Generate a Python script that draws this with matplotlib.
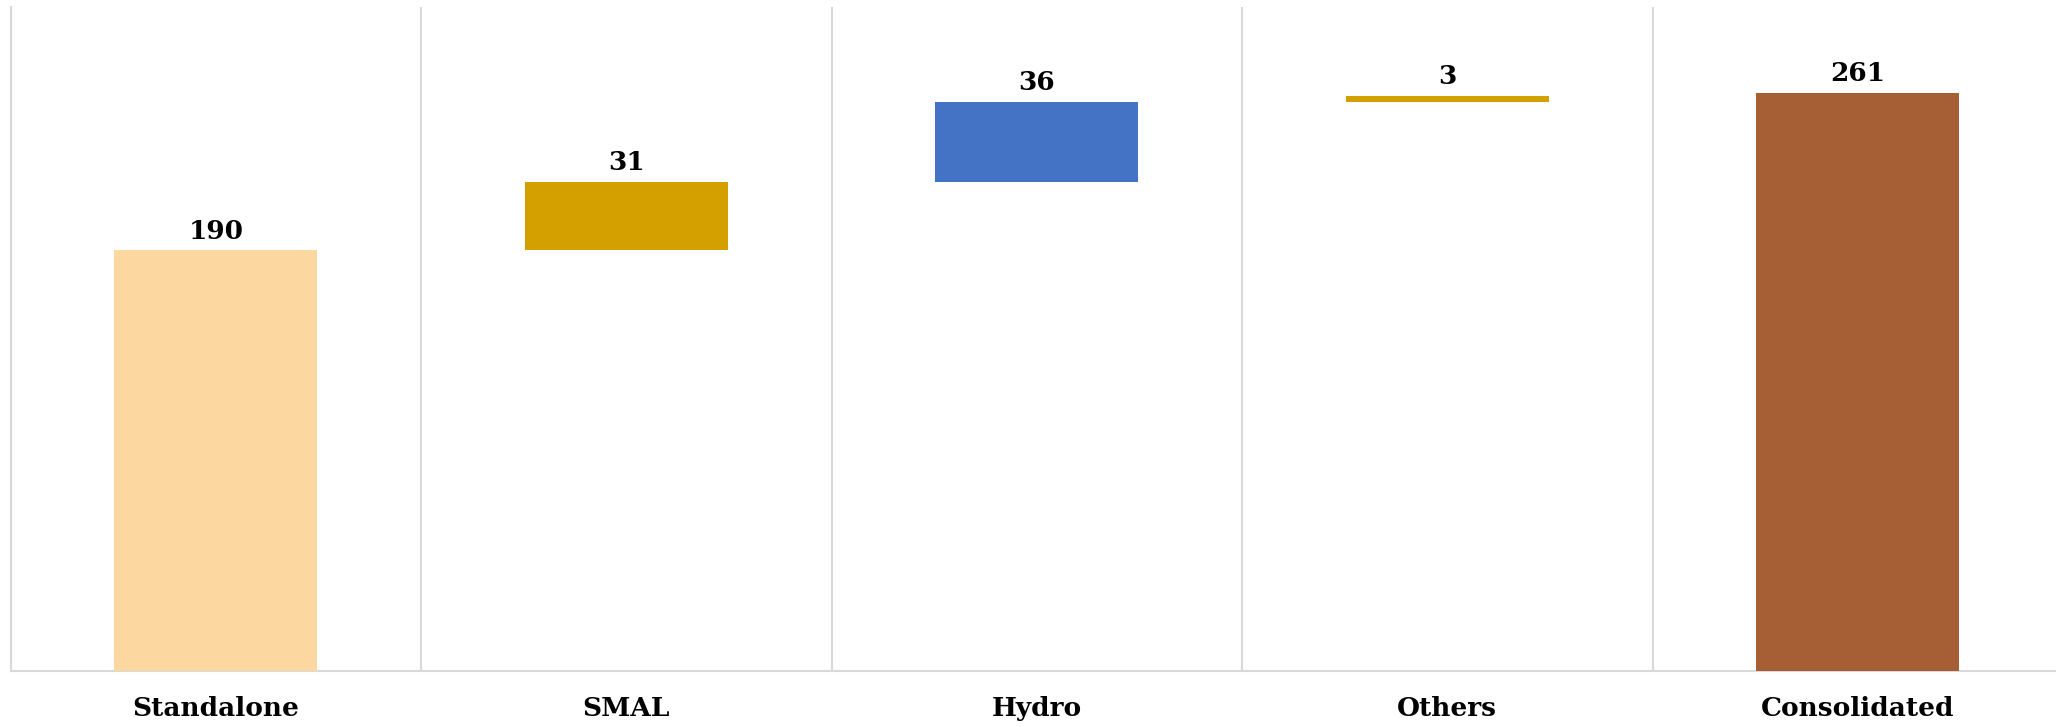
import matplotlib
matplotlib.use("Agg")
import matplotlib.pyplot as plt
import numpy as np

categories = ["Standalone", "SMAL", "Hydro", "Others", "Consolidated"]
values = [190, 31, 36, 3, 261]
bases = [0, 190, 221, 257, 0]
colors = ["#FDD7A0", "#D4A000", "#4472C4", "#D4A000", "#A65E34"]

plt.rcParams['font.family'] = ['DejaVu Serif']

fig = plt.figure(figsize=(20.56, 7.27), dpi=100)
ax = fig.add_axes([10.5 / 2056, 56 / 727, 2052.5 / 2056, 664 / 727])

x = np.arange(len(categories))
bars = ax.bar(x, values, bottom=bases, width=0.495, color=colors, zorder=3)

for xi, v, b in zip(x, values, bases):
    ax.annotate(str(v), (xi, b + v), xytext=(0, 5), textcoords="offset points",
                ha="center", va="bottom", fontsize=19, fontweight="bold", color="black")

ax.set_xlim(-0.5, len(categories) - 0.5)
ax.set_ylim(0, 300)
ax.set_yticks([])

# category separators
ax.set_xticks(np.arange(len(categories) + 1) - 0.5, minor=True)
ax.grid(True, which="minor", axis="x", color="#D9D9D9", linewidth=1.5, zorder=0)
ax.set_xticks(x)
ax.set_xticklabels(categories, fontsize=19, fontweight="bold")
ax.tick_params(axis="x", which="both", length=0, pad=18)

for s in ["top", "right"]:
    ax.spines[s].set_visible(False)
ax.spines["left"].set_color("#D9D9D9")
ax.spines["bottom"].set_color("#D9D9D9")
ax.spines["left"].set_linewidth(1.5)
ax.spines["bottom"].set_linewidth(1.5)

fig.savefig("out.png", dpi=100)
